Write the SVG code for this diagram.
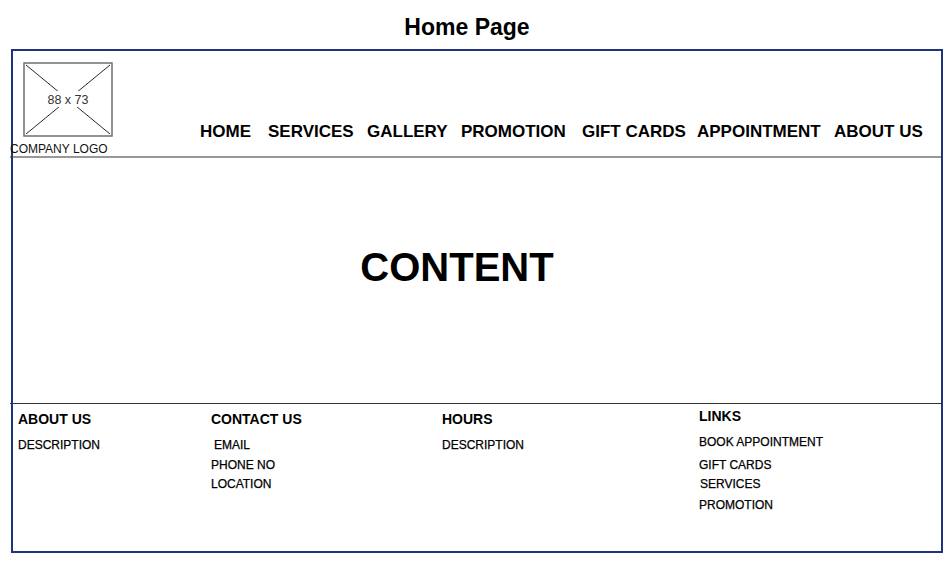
<svg xmlns="http://www.w3.org/2000/svg" width="950" height="563" viewBox="0 0 950 563">
<style>
text{font-family:"Liberation Sans",Arial,sans-serif;fill:#000}
.nav{font-size:17px;font-weight:bold}
.h{font-size:14px;font-weight:bold}
.d{font-size:12px;stroke:#000;stroke-width:0.25}
.sep{stroke:#333;stroke-width:1.2}
</style>
<rect width="950" height="563" fill="#fff"/>
<text x="467" y="35" text-anchor="middle" font-size="23" font-weight="bold">Home Page</text>
<g id="frame"><rect x="12" y="50" width="930" height="502" fill="#fff" stroke="#1f3480" stroke-width="2"/></g>
<g id="logo">
<rect x="24" y="63" width="88" height="73" fill="#fff" stroke="#666" stroke-width="1.4"/>
<line x1="26" y1="65" x2="110" y2="134" stroke="#111" stroke-width="0.9"/>
<line x1="110" y1="65" x2="26" y2="134" stroke="#111" stroke-width="0.9"/>
<rect x="44" y="91" width="48" height="16" fill="#fff"/>
<text x="68" y="104" text-anchor="middle" font-size="12.5" style="fill:#333">88 x 73</text>
<text x="10" y="153" font-size="12" style="fill:#111">COMPANY LOGO</text>
</g>
<g id="nav">
<text class="nav" x="200" y="137">HOME</text>
<text class="nav" x="268" y="137">SERVICES</text>
<text class="nav" x="367" y="137">GALLERY</text>
<text class="nav" x="461" y="137">PROMOTION</text>
<text class="nav" x="582" y="137">GIFT CARDS</text>
<text class="nav" x="697" y="137">APPOINTMENT</text>
<text class="nav" x="834" y="137">ABOUT US</text>
</g>
<g id="separators">
<line class="sep" x1="10" y1="157" x2="942" y2="157"/>
<line class="sep" x1="10" y1="403.5" x2="942" y2="403.5"/>
</g>
<g id="content"><text x="457" y="281" text-anchor="middle" font-size="40" font-weight="bold">CONTENT</text></g>
<g id="footer-about">
<text class="h" x="18" y="424">ABOUT US</text>
<text class="d" x="18" y="449">DESCRIPTION</text>
</g>
<g id="footer-contact">
<text class="h" x="211" y="424">CONTACT US</text>
<text class="d" x="214" y="449">EMAIL</text>
<text class="d" x="211" y="469">PHONE NO</text>
<text class="d" x="211" y="488">LOCATION</text>
</g>
<g id="footer-hours">
<text class="h" x="442" y="424">HOURS</text>
<text class="d" x="442" y="449">DESCRIPTION</text>
</g>
<g id="footer-links">
<text class="h" x="699" y="421">LINKS</text>
<text class="d" x="699" y="446">BOOK APPOINTMENT</text>
<text class="d" x="699" y="469">GIFT CARDS</text>
<text class="d" x="700" y="488">SERVICES</text>
<text class="d" x="699" y="509">PROMOTION</text>
</g>
</svg>
